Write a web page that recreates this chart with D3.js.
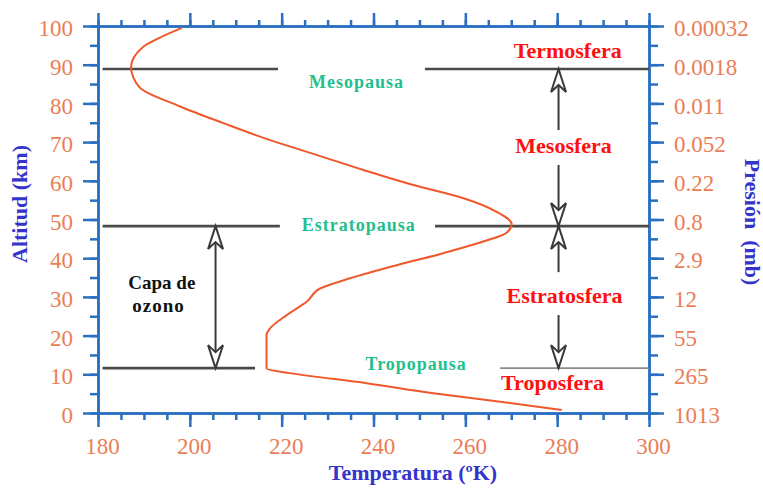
<!DOCTYPE html>
<html><head><meta charset="utf-8">
<script src="https://cdn.jsdelivr.net/npm/d3@7"></script>
<style>
html,body{margin:0;padding:0;background:#fff;}
svg{display:block;font-family:"Liberation Serif","DejaVu Serif",serif;}
svg text{font-family:"Liberation Serif","DejaVu Serif",serif;}
</style></head>
<body><svg id="c" width="763" height="488"></svg>
<script>
// ---- data ----
const tempTicks = [180, 200, 220, 240, 260, 280, 300];
const altTicks = [0, 10, 20, 30, 40, 50, 60, 70, 80, 90, 100];
const pressureLabels = ["1013", "265", "55", "12", "2.9", "0.8", "0.22", "0.052", "0.011", "0.0018", "0.00032"];
// temperature profile: temperature (K) and altitude (km)
const profileT = [198.3, 193.5, 189.8, 187.2, 189, 197.9, 207.3, 217.5, 227.6, 237.8, 248.7, 259.6, 266.8, 270.1, 269, 263.9, 255.2, 245.1, 234.9, 228.4, 225.5, 221.1, 217.5, 216.7, 216.7, 221.8, 238.5, 253, 267.6, 281];
const profileH = [99.5, 97, 94.6, 89.4, 84.2, 79.2, 74.9, 70.5, 66.7, 62.8, 58.9, 55.5, 52.0, 48.8, 46.6, 44.3, 41.3, 38.2, 34.8, 32.2, 28.8, 25.3, 21.9, 20.2, 11.5, 10.3, 7.7, 5.1, 2.9, 0.8];
// pauses (boundary altitudes) and their labels
const pauseNames = ["Mesopausa", "Estratopausa", "Tropopausa"];
const pauseAlt = [88.9, 48.3, 11.6];
const layerNames = ["Termosfera", "Mesosfera", "Estratosfera", "Troposfera"];
const ozoneLabel = ["Capa de", "ozono"];

// ---- layout ----
const svg = d3.select("#c");
const x = d3.scaleLinear().domain([180, 300]).range([98, 649]);
const y = d3.scaleLinear().domain([0, 100]).range([413, 26]);

const AX = "#2a6fc0", LBL = "#ea7e56", TITLE = "#3434cc", CURVE = "#f0582c",
      LINE = "#4a4a4a", RED = "#ff1010", GREEN = "#1fc08e";
const SERIF = '"Liberation Serif", "DejaVu Serif", serif';

const minorT = d3.range(180, 301, 5);
const minorH = d3.range(0, 101, 5);

function styleAxis(g) {
  g.attr("font-family", null).style("font-family", SERIF);
  g.select(".domain").attr("stroke", AX).attr("stroke-width", 2.5);
  g.selectAll(".tick line").attr("stroke", AX).attr("stroke-width", 2.5);
  g.selectAll(".tick text").attr("fill", LBL).attr("font-size", 23)
    .style("font-family", SERIF);
}
function minor(axis) { return axis.tickFormat("").tickSizeOuter(0); }

// bottom
svg.append("g").attr("transform", `translate(0,${y(0)})`)
  .call(minor(d3.axisBottom(x).tickValues(minorT).tickSize(7))).call(styleAxis);
svg.append("g").attr("transform", `translate(0,${y(0)})`)
  .call(d3.axisBottom(x).tickValues(tempTicks).tickSize(14).tickSizeOuter(0).tickPadding(11))
  .call(styleAxis)
  .call(g => g.selectAll(".tick text").attr("dx", 4));
// top
svg.append("g").attr("transform", `translate(0,${y(100)})`)
  .call(minor(d3.axisTop(x).tickValues(minorT).tickSize(6))).call(styleAxis);
svg.append("g").attr("transform", `translate(0,${y(100)})`)
  .call(d3.axisTop(x).tickValues(tempTicks).tickSize(13).tickSizeOuter(0).tickFormat(""))
  .call(styleAxis);
// left
svg.append("g").attr("transform", `translate(${x(180)},0)`)
  .call(minor(d3.axisLeft(y).tickValues(minorH).tickSize(8))).call(styleAxis);
svg.append("g").attr("transform", `translate(${x(180)},0)`)
  .call(d3.axisLeft(y).tickValues(altTicks).tickSize(15).tickSizeOuter(0).tickPadding(10))
  .call(styleAxis)
  .call(g => g.selectAll(".tick text").attr("dy", "0.42em"));
// right
svg.append("g").attr("transform", `translate(${x(300)},0)`)
  .call(minor(d3.axisRight(y).tickValues(minorH).tickSize(9))).call(styleAxis);
svg.append("g").attr("transform", `translate(${x(300)},0)`)
  .call(d3.axisRight(y).tickValues(altTicks).tickSize(15).tickSizeOuter(0).tickPadding(10)
    .tickFormat((d, i) => pressureLabels[i]))
  .call(styleAxis)
  .call(g => g.selectAll(".tick text").attr("dy", "0.42em"));

// Axis titles
svg.append("text").attr("x", 413).attr("y", 480).attr("text-anchor", "middle")
  .attr("font-size", 22).attr("font-weight", "bold").attr("fill", TITLE)
  .text("Temperatura (ºK)");
svg.append("text").attr("transform", "translate(19,204) rotate(-90)")
  .attr("text-anchor", "middle").attr("dominant-baseline", "central")
  .attr("font-size", 22).attr("font-weight", "bold").attr("fill", TITLE)
  .text("Altitud (km)");
svg.append("text").attr("transform", "translate(752,222) rotate(90)")
  .attr("text-anchor", "middle").attr("dominant-baseline", "central")
  .attr("font-size", 22).attr("font-weight", "bold").attr("fill", TITLE)
  .style("white-space", "pre")
  .text("Presión  (mb)");

// pause lines (left & right segments)
const pauseSegs = [
  [[181, 219.2], [251.2, 300]],
  [[181, 219.6], [253.4, 300]],
  [[181, 214.2], [267.6, 300]]
];
pauseAlt.forEach((h, i) => {
  pauseSegs[i].forEach((s, j) => {
    const light = (i === 2 && j === 1);
    svg.append("line")
      .attr("x1", x(s[0])).attr("x2", x(s[1]))
      .attr("y1", y(h)).attr("y2", y(h))
      .attr("stroke", light ? "#8a8a8a" : LINE)
      .attr("stroke-width", light ? 1.6 : 2.6);
  });
});

// profile curve
const pts = profileT.map((t, i) => [t, profileH[i]]);
svg.append("path").datum(pts)
  .attr("fill", "none").attr("stroke", CURVE).attr("stroke-width", 2)
  .attr("stroke-linejoin", "round")
  .attr("d", d3.line().x(d => x(d[0])).y(d => y(d[1])).curve(d3.curveMonotoneY));

// arrows
function arrow(t, hTip, hEnd) {
  const X = x(t), y0 = y(hTip), y1 = y(hEnd);
  const dir = y1 > y0 ? 1 : -1;
  svg.append("line").attr("x1", X).attr("x2", X).attr("y1", y0).attr("y2", y1)
    .attr("stroke", "#3a3a3a").attr("stroke-width", 2);
  const L = 23, W = 7.5, N = 16;
  svg.append("path")
    .attr("d", `M${X},${y0} L${X - W},${y0 + dir * L} L${X},${y0 + dir * N} L${X + W},${y0 + dir * L} Z`)
    .attr("fill", "#fff").attr("stroke", "#3a3a3a").attr("stroke-width", 2)
    .attr("stroke-linejoin", "miter");
}
arrow(205.6, pauseAlt[1], 30);
arrow(205.6, pauseAlt[2], 30);
arrow(280.3, pauseAlt[0], 73.1);
arrow(280.3, pauseAlt[1], 64.1);
arrow(280.3, pauseAlt[1], 36.4);
arrow(280.3, pauseAlt[2], 25.3);

// labels
const pauseLabelPos = [[236.3, 83.9], [236.8, 47.1], [249.3, 11.1]];
pauseNames.forEach((n, i) => {
  svg.append("text").attr("x", x(pauseLabelPos[i][0])).attr("y", y(pauseLabelPos[i][1]))
    .attr("text-anchor", "middle").attr("font-size", 18).attr("font-weight", "bold")
    .attr("letter-spacing", 1).attr("fill", GREEN).text(n);
});
const layerLabelPos = [[282.3, 91.7], [281.4, 67.2], [281.6, 28.3], [279, 5.9]];
layerNames.forEach((n, i) => {
  svg.append("text").attr("x", x(layerLabelPos[i][0])).attr("y", y(layerLabelPos[i][1]))
    .attr("text-anchor", "middle").attr("font-size", 22).attr("font-weight", "bold")
    .attr("fill", RED).text(n);
});
const ozonePos = [[193.9, 32.0], [193.2, 26.0]];
ozoneLabel.forEach((n, i) => {
  svg.append("text").attr("x", x(ozonePos[i][0])).attr("y", y(ozonePos[i][1]))
    .attr("text-anchor", "middle").attr("font-size", 19).attr("font-weight", "bold")
    .attr("letter-spacing", i === 1 ? 1 : 0).attr("fill", "#111").text(n);
});
</script></body></html>
